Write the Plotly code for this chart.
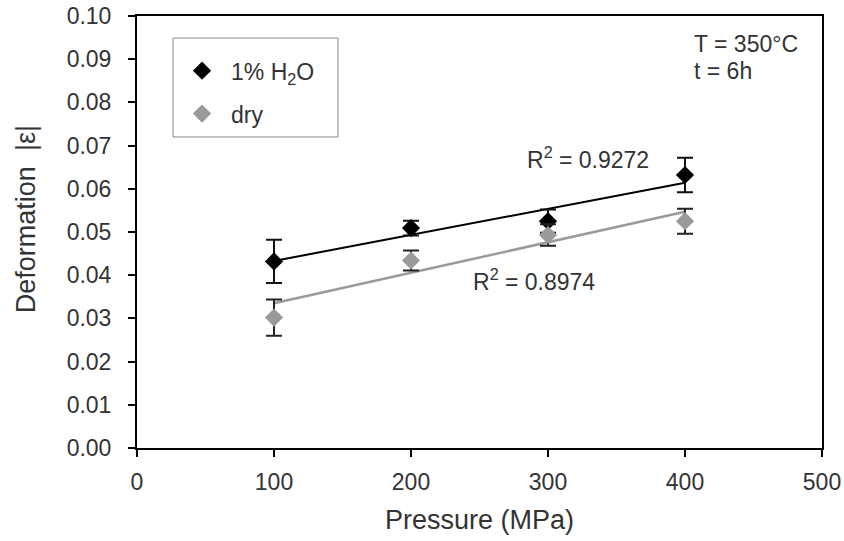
import plotly.graph_objects as go

pressure = [100, 200, 300, 400]
wet_values = [0.0432, 0.0509, 0.0525, 0.0632]
wet_errors = [0.0050, 0.0017, 0.0027, 0.0040]
dry_values = [0.0302, 0.0434, 0.0493, 0.0525]
dry_errors = [0.0042, 0.0023, 0.0025, 0.0029]
trend_x = [100, 400]
wet_trend = [0.0433, 0.0614]
dry_trend = [0.0335, 0.0547]
x_ticks = [0, 100, 200, 300, 400, 500]
y_ticks = [0.00, 0.01, 0.02, 0.03, 0.04, 0.05, 0.06, 0.07, 0.08, 0.09, 0.10]

FONT = "Arial, Liberation Sans, sans-serif"
TXT = "#333333"
BLACK = "#000000"
GREY = "#9a9a9a"
FS = 23

fig = go.Figure()
fig.add_trace(go.Scatter(x=trend_x, y=wet_trend, mode="lines",
                         line=dict(color=BLACK, width=2), showlegend=False, hoverinfo="skip"))
fig.add_trace(go.Scatter(x=trend_x, y=dry_trend, mode="lines",
                         line=dict(color=GREY, width=2.5), showlegend=False, hoverinfo="skip"))
fig.add_trace(go.Scatter(
    x=pressure, y=wet_values, mode="markers", name="1% H<sub>2</sub>O", legendgroup="a",
    marker=dict(symbol="diamond", size=14, color=BLACK),
    error_y=dict(type="data", array=wet_errors, visible=True, color="#111111", thickness=2, width=8)))
fig.add_trace(go.Scatter(
    x=pressure, y=dry_values, mode="markers", name="dry", legendgroup="b",
    marker=dict(symbol="diamond", size=14, color=GREY),
    error_y=dict(type="data", array=dry_errors, visible=True, color="#222222", thickness=2, width=8)))

ann_font = dict(family=FONT, size=FS, color=TXT)
fig.add_annotation(x=283, y=0.0672, text="R<sup>2</sup> = 0.9272", showarrow=False,
                   xanchor="left", yanchor="middle", font=ann_font)
fig.add_annotation(x=244, y=0.0388, text="R<sup>2</sup> = 0.8974", showarrow=False,
                   xanchor="left", yanchor="middle", font=ann_font)
fig.add_annotation(x=405, y=0.0935, text="T = 350°C", showarrow=False,
                   xanchor="left", yanchor="middle", font=ann_font)
fig.add_annotation(x=405, y=0.0872, text="t = 6h", showarrow=False,
                   xanchor="left", yanchor="middle", font=ann_font)

# axis titles
fig.add_annotation(xref="paper", yref="paper", x=0.5, y=-0.167, text="Pressure (MPa)",
                   showarrow=False, xanchor="center", yanchor="middle",
                   font=dict(family=FONT, size=27, color=TXT))
fig.add_annotation(xref="paper", yref="paper", x=-0.161, y=0.529, text="Deformation\u00a0\u00a0|ε|",
                   showarrow=False, xanchor="center", yanchor="middle", textangle=-90,
                   font=dict(family=FONT, size=27, color=TXT))

# legend frame
fig.add_shape(type="rect", xref="paper", yref="paper", x0=0.0526, x1=0.2934, y0=0.7199, y1=0.949,
              line=dict(color="#888888", width=1), fillcolor="rgba(0,0,0,0)", layer="above")

axis_common = dict(showline=True, linecolor=BLACK, linewidth=2, mirror=True,
                   ticks="outside", ticklen=7, tickwidth=2, tickcolor=BLACK,
                   showgrid=False, zeroline=False, automargin=False,
                   ticklabeloverflow="allow",
                   tickfont=dict(family=FONT, size=FS, color=TXT))

fig.update_layout(
    width=844, height=541,
    margin=dict(l=137, r=22, t=16, b=93),
    paper_bgcolor="white", plot_bgcolor="white",
    font=dict(family=FONT, size=FS, color=TXT),
    xaxis=dict(range=[0, 500], tickvals=x_ticks, ticktext=[str(v) for v in x_ticks],
               ticklabelstandoff=5, **axis_common),
    yaxis=dict(range=[0, 0.10], tickvals=y_ticks, ticktext=[f"{v:.2f}" for v in y_ticks],
               ticklabelstandoff=12, **axis_common),
    legend=dict(x=0.0526, y=0.923, xanchor="left", yanchor="top",
                borderwidth=0, bgcolor="rgba(0,0,0,0)",
                font=dict(family=FONT, size=FS, color=TXT),
                traceorder="grouped", tracegroupgap=10, itemwidth=48),
)

fig.write_html("out.html",
               config={"displayModeBar": False},
               post_script="document.body.style.margin='0';document.body.style.overflow='hidden';")
